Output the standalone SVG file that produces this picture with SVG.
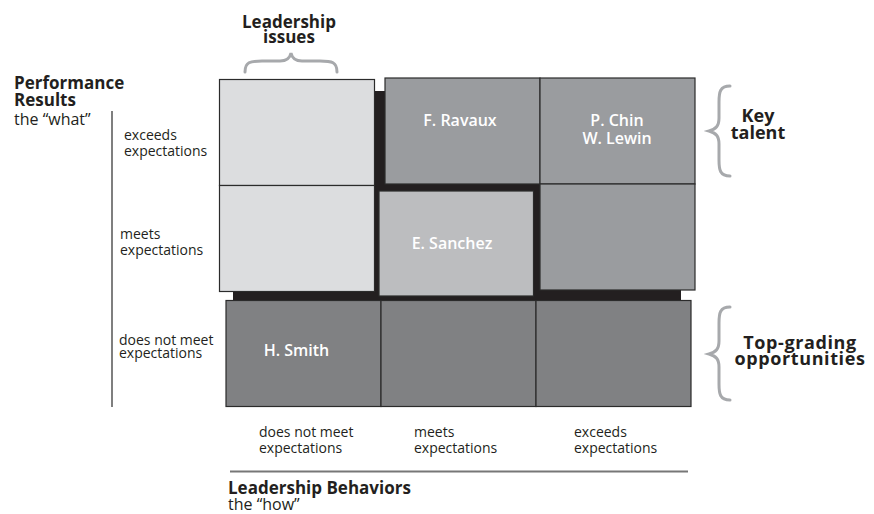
<svg xmlns="http://www.w3.org/2000/svg" width="874" height="514" viewBox="0 0 874 514">
<style>
text{font-family:"Open Sans","Noto Sans","Liberation Sans",sans-serif;fill:#231f20}
.h{font-weight:700;font-size:17px}
.l{font-size:14px}
.w{font-size:16px}
.t{font-weight:700;font-size:18px;text-anchor:middle}
.g{letter-spacing:0.6px}
.n{font-weight:600;font-size:16px;fill:#fff;text-anchor:middle}
.cell{stroke:#2b2b2b;stroke-width:1.2}
.brace{fill:none;stroke:#a7a9ac;stroke-width:3;stroke-linecap:round}
</style>
<rect width="874" height="514" fill="#fff"/>
<g id="axes">
<line x1="112" y1="111" x2="112" y2="407" stroke="#555" stroke-width="1.5"/>
<line x1="230" y1="471.5" x2="688" y2="471.5" stroke="#777" stroke-width="2"/>
</g>
<g id="backdrop">
<rect x="375" y="91" width="165" height="209" fill="#231f20"/>
<rect x="233" y="289" width="448" height="12" fill="#231f20"/>
</g>
<g id="cell-ll-ex"><rect class="cell" x="219.5" y="79.5" width="155" height="106" fill="#dcdddf"/></g>
<g id="cell-ll-me"><rect class="cell" x="219.5" y="185.5" width="155" height="106" fill="#dcdddf"/></g>
<g id="cell-me-ex"><rect class="cell" x="385" y="78" width="155" height="106" fill="#9a9c9f"/><text class="n" x="460" y="126">F. Ravaux</text></g>
<g id="cell-ex-ex"><rect class="cell" x="540" y="78" width="155" height="106" fill="#9a9c9f"/><text class="n" x="617" y="126">P. Chin</text><text class="n" x="617" y="144">W. Lewin</text></g>
<g id="cell-me-me"><rect class="cell" x="379" y="191" width="154.5" height="105" fill="#bcbdbf"/><text class="n" x="452" y="249">E. Sanchez</text></g>
<g id="cell-ex-me"><rect class="cell" x="540" y="184" width="155" height="106" fill="#9a9c9f"/></g>
<g id="cell-ll-lo"><rect class="cell" x="226" y="300.5" width="155" height="106" fill="#808183"/><text class="n" x="296.5" y="356">H. Smith</text></g>
<g id="cell-me-lo"><rect class="cell" x="381" y="300.5" width="155" height="106" fill="#808183"/></g>
<g id="cell-ex-lo"><rect class="cell" x="536" y="300.5" width="155" height="106" fill="#808183"/></g>
<g id="leadership-issues">
<path class="brace" d="M245,72 C245,62 250,61 262,61 L280,61 C287,61 290,58 291,53 C292,58 295,61 302,61 L320,61 C332,61 337,62 337,72"/>
<text class="h" x="289" y="28" text-anchor="middle">Leadership</text>
<text class="h" x="289" y="43" text-anchor="middle">issues</text>
</g>
<g id="key-talent">
<path class="brace" d="M730,86 C720,86 719,92 719,102 L719,118 C719,126 716,129 709,131 C716,133 719,136 719,144 L719,160 C719,170 720,176 730,176"/>
<text class="t" x="758" y="122">Key</text>
<text class="t" x="758" y="139">talent</text>
</g>
<g id="top-grading">
<path class="brace" d="M730,307 C720,307 719,313 719,323 L719,341 C719,349 716,352 709,354 C716,356 719,359 719,367 L719,384 C719,394 720,400 730,400"/>
<text class="t g" x="800" y="349">Top-grading</text>
<text class="t g" x="800" y="365">opportunities</text>
</g>
<g id="y-axis-labels">
<text class="h" x="14" y="89">Performance</text>
<text class="h" x="14" y="106">Results</text>
<text class="w" x="14" y="125">the “what”</text>
<text class="l" x="124" y="140">exceeds</text>
<text class="l" x="124" y="156">expectations</text>
<text class="l" x="120" y="239">meets</text>
<text class="l" x="120" y="255">expectations</text>
<text class="l" x="119" y="345">does not meet</text>
<text class="l" x="119" y="358">expectations</text>
</g>
<g id="x-axis-labels">
<text class="l" x="259" y="437">does not meet</text>
<text class="l" x="259" y="453">expectations</text>
<text class="l" x="414" y="437">meets</text>
<text class="l" x="414" y="453">expectations</text>
<text class="l" x="574" y="437">exceeds</text>
<text class="l" x="574" y="453">expectations</text>
<text class="h" x="228" y="494">Leadership Behaviors</text>
<text class="w" x="228" y="510">the “how”</text>
</g>
</svg>
